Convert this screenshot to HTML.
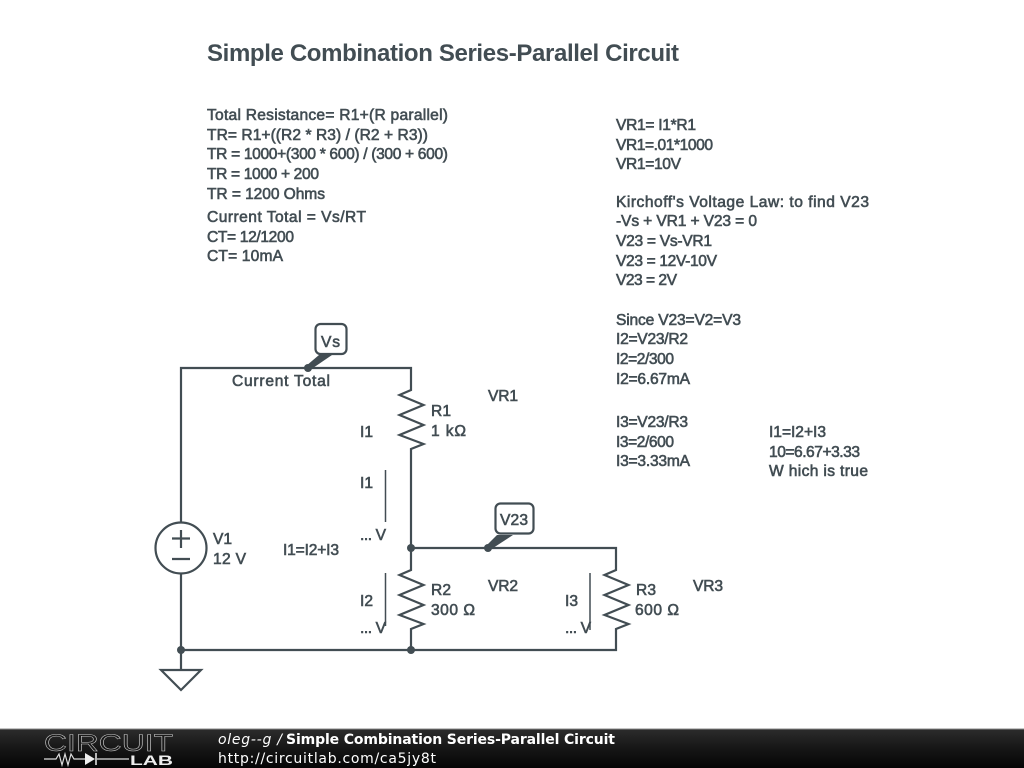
<!DOCTYPE html>
<html><head><meta charset="utf-8">
<style>
html,body{margin:0;padding:0;background:#fff;width:1024px;height:768px;overflow:hidden}
svg{display:block}
.t{font-family:"Liberation Sans",sans-serif;font-size:15.6px;fill:#424d53;stroke:#424d53;stroke-width:.6px}
.f{font-family:"DejaVu Sans",sans-serif;font-size:14px;fill:#fff}
</style></head><body>
<svg width="1024" height="768" viewBox="0 0 1024 768" xmlns="http://www.w3.org/2000/svg">
<defs><linearGradient id="g" x1="0" y1="0" x2="0" y2="1"><stop offset="0" stop-color="#2c2c2c"/><stop offset=".5" stop-color="#161616"/><stop offset="1" stop-color="#050505"/></linearGradient></defs>
<rect width="1024" height="768" fill="#fff"/>
<g fill="none" stroke="#424d53" stroke-width="2.2" stroke-linejoin="miter">
<path d="M181 522V368H411V390L399.500 395 423.500 405 399.500 415 423.500 425 399.500 435 423.500 444 411 449V570L399.500 575 423.500 585 399.500 595 423.500 605 399.500 615 423.500 624 411 629V650"/>
<path d="M411 548H616V570L604.500 575 628.500 585 604.500 595 628.500 605 604.500 615 628.500 624 616 629V650H181"/>
<path d="M181 574V670"/>
<circle cx="181" cy="548" r="25.500"/>
<path d="M172 538.500H190M181 530V548M172 559H190"/>
<path d="M161 670H201L181 690Z"/>
<rect x="315.500" y="324" width="31" height="30" rx="5" fill="#fff"/>
<rect x="495.500" y="503.500" width="38" height="30" rx="5" fill="#fff"/>
</g>
<g fill="#424d53">
<circle cx="308" cy="368" r="4"/><circle cx="411" cy="548" r="4"/><circle cx="488" cy="548" r="4"/><circle cx="181" cy="650" r="4"/><circle cx="411" cy="650" r="4"/>
<path d="M306 366L319 355H332L310 370Z"/>
<path d="M486 546L497 535H513L490 550Z"/>
</g>
<g fill="none" stroke="#424d53" stroke-width="1.500">
<path d="M385.500 470V522M385.500 573V626M590 573V630"/>
</g>
<text x="207" y="61" textLength="472" style="font:bold 24px 'Liberation Sans',sans-serif;fill:#424d53">Simple Combination Series-Parallel Circuit</text>
<g>
<text class="t" x="207" y="120" textLength="241">Total Resistance= R1+(R parallel)</text>
<text class="t" x="207" y="140" textLength="221">TR= R1+((R2 * R3) / (R2 + R3))</text>
<text class="t" x="207" y="159" textLength="241">TR = 1000+(300 * 600) / (300 + 600)</text>
<text class="t" x="207" y="179" textLength="112">TR = 1000 + 200</text>
<text class="t" x="207" y="199" textLength="118">TR = 1200 Ohms</text>
<text class="t" x="207" y="222" textLength="159">Current Total = Vs/RT</text>
<text class="t" x="207" y="242" textLength="87">CT= 12/1200</text>
<text class="t" x="207" y="261" textLength="76">CT= 10mA</text>
<text class="t" x="616" y="130" textLength="80">VR1= I1*R1</text>
<text class="t" x="616" y="150" textLength="97">VR1=.01*1000</text>
<text class="t" x="616" y="169" textLength="65">VR1=10V</text>
<text class="t" x="616" y="207" textLength="253">Kirchoff's Voltage Law: to find V23</text>
<text class="t" x="616" y="226" textLength="141">-Vs + VR1 + V23 = 0</text>
<text class="t" x="616" y="246" textLength="96">V23 = Vs-VR1</text>
<text class="t" x="616" y="266" textLength="101">V23 = 12V-10V</text>
<text class="t" x="616" y="285" textLength="61">V23 = 2V</text>
<text class="t" x="616" y="325" textLength="125">Since V23=V2=V3</text>
<text class="t" x="616" y="344" textLength="72">I2=V23/R2</text>
<text class="t" x="616" y="364" textLength="58">I2=2/300</text>
<text class="t" x="616" y="384" textLength="74">I2=6.67mA</text>
<text class="t" x="616" y="427" textLength="72">I3=V23/R3</text>
<text class="t" x="616" y="447" textLength="58">I3=2/600</text>
<text class="t" x="616" y="466" textLength="74">I3=3.33mA</text>
<text class="t" x="769" y="437" textLength="57">I1=I2+I3</text>
<text class="t" x="769" y="457" textLength="91">10=6.67+3.33</text>
<text class="t" x="769" y="476" textLength="99">W hich is true</text>
<text class="t" x="232" y="386" textLength="98">Current Total</text>
<text class="t" x="488" y="401" textLength="30">VR1</text>
<text class="t" x="431" y="416" textLength="20">R1</text>
<text class="t" x="431" y="436" textLength="35">1 kΩ</text>
<text class="t" x="360" y="437" textLength="13">I1</text>
<text class="t" x="360" y="488" textLength="13">I1</text>
<text class="t" x="360" y="540" textLength="26">... V</text>
<text class="t" x="213" y="544" textLength="19">V1</text>
<text class="t" x="213" y="564" textLength="33">12 V</text>
<text class="t" x="283" y="555" textLength="56">I1=I2+I3</text>
<text class="t" x="360" y="606" textLength="13">I2</text>
<text class="t" x="360" y="633" textLength="26">... V</text>
<text class="t" x="431" y="595" textLength="20">R2</text>
<text class="t" x="431" y="615" textLength="44">300 Ω</text>
<text class="t" x="488" y="591" textLength="30">VR2</text>
<text class="t" x="565" y="606" textLength="13">I3</text>
<text class="t" x="565" y="633" textLength="26">... V</text>
<text class="t" x="636" y="595" textLength="20">R3</text>
<text class="t" x="635" y="615" textLength="44">600 Ω</text>
<text class="t" x="693" y="591" textLength="30">VR3</text>
<text class="t" x="321" y="347" textLength="19">Vs</text>
<text class="t" x="500" y="525" textLength="28">V23</text>
</g>
<rect x="0" y="729" width="1024" height="39" fill="url(#g)"/>
<rect x="0" y="728.500" width="1024" height="1" fill="#8a8a8a"/>
<text x="44" y="751" textLength="129" lengthAdjust="spacingAndGlyphs" style="font:24px 'Liberation Sans',sans-serif;fill:#1a1a1a;stroke:#ccc;stroke-width:.5px">CIRCUIT</text>
<path d="M44 759H56L59 754 62 765 65 754 68 765 71 754 74 759H85M97 759H129" fill="none" stroke="#ddd" stroke-width="1.200"/>
<path d="M85 753V765L95 759Z" fill="#eee"/><path d="M96 753V765" stroke="#eee" stroke-width="1.500"/>
<text x="130" y="765" textLength="43" lengthAdjust="spacingAndGlyphs" style="font:bold 14px 'Liberation Sans',sans-serif;fill:#eee">LAB</text>
<text class="f" x="218" y="744" textLength="64" font-style="italic">oleg--g /</text>
<text class="f" x="286" y="744" textLength="329" font-weight="bold">Simple Combination Series-Parallel Circuit</text>
<text class="f" x="218" y="763" textLength="218">http://circuitlab.com/ca5jy8t</text>
</svg>
</body></html>
